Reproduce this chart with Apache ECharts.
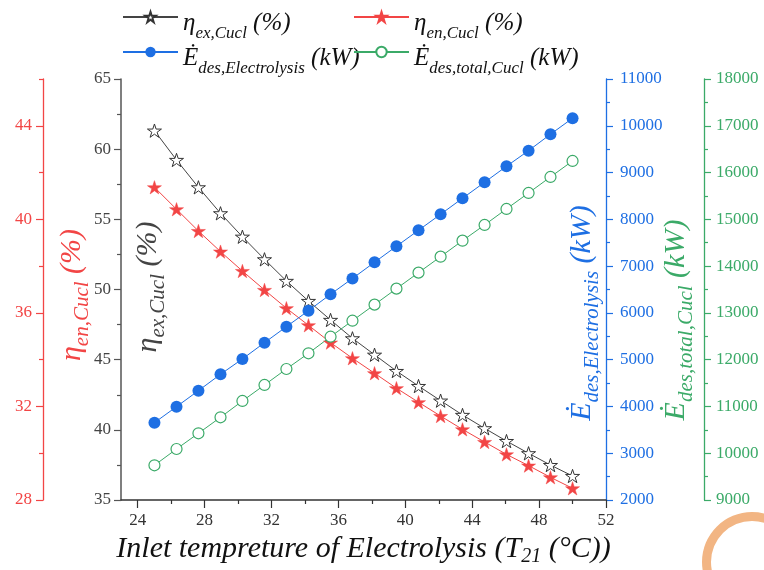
<!DOCTYPE html>
<html>
<head>
<meta charset="utf-8">
<script src="https://cdn.jsdelivr.net/npm/echarts@6/dist/echarts.min.js"></script>
<style>html,body{margin:0;padding:0;background:#fff}#c{width:764px;height:570px}</style>
</head>
<body>
<div id="c"></div>
<script>
// ---- data ----
const tempC = [25, 26.32, 27.63, 28.95, 30.26, 31.58, 32.89, 34.21, 35.53, 36.84, 38.16, 39.47, 40.79, 42.11, 43.42, 44.74, 46.05, 47.37, 48.68, 50];
const etaEx = [61.32, 59.23, 57.28, 55.43, 53.76, 52.15, 50.61, 49.18, 47.83, 46.52, 45.35, 44.19, 43.12, 42.08, 41.06, 40.11, 39.20, 38.33, 37.49, 36.71];
const etaEn = [41.37, 40.43, 39.50, 38.62, 37.79, 36.98, 36.20, 35.47, 34.73, 34.06, 33.42, 32.78, 32.18, 31.59, 31.02, 30.48, 29.95, 29.47, 28.97, 28.50];
const exdElec = [3653, 3995, 4337, 4687, 5015, 5363, 5705, 6047, 6398, 6736, 7082, 7424, 7766, 8108, 8450, 8792, 9134, 9468, 9819, 10161];
const exdTotal = [9742, 10090, 10426, 10768, 11117, 11459, 11801, 12136, 12491, 12833, 13176, 13518, 13860, 14202, 14544, 14880, 15222, 15564, 15906, 16248];

const xMajorTicks = [24, 28, 32, 36, 40, 44, 48, 52];
const xMinorTicks = [26, 30, 34, 38, 42, 46, 50];
const etaExTicks = [35, 40, 45, 50, 55, 60, 65];
const etaEnTicks = [28, 32, 36, 40, 44];
const etaEnMinorTicks = [30, 34, 38, 42, 46];
const etaEnRange = [28, 46];
const elecTicks = [2000, 3000, 4000, 5000, 6000, 7000, 8000, 9000, 10000, 11000];
const totalTicks = [9000, 10000, 11000, 12000, 13000, 14000, 15000, 16000, 17000, 18000];
const xRange = [23, 52];

// ---- styles ----
const FONT = 'Liberation Serif';
const C_RED = '#F24545', C_BLUE = '#1E6FE3', C_GREEN = '#3BAA68';
const STAR = 'path://M100,0L122.45,69.1L195.1,69.1L136.3,111.8L158.8,180.9L100,138.2L41.2,180.9L63.7,111.8L4.9,69.1L77.55,69.1Z';

const legendNames = {
  ex: '{m|η}{s|ex,Cucl}{m| (%)}',
  en: '{m|η}{s|en,Cucl}{m| (%)}',
  el: '{m|Ė}{s|des,Electrolysis}{m| (kW)}',
  tot: '{m|Ė}{s|des,total,Cucl}{m| (kW)}'
};
const legRich = {
  m: {fontSize: 25, fontStyle: 'italic', fontFamily: FONT, color: '#111', verticalAlign: 'top', lineHeight: 28, padding: [8, 0, 0, 0]},
  s: {fontSize: 17, fontStyle: 'italic', fontFamily: FONT, color: '#111', verticalAlign: 'top', lineHeight: 17, padding: [22, 0, 0, 0]}
};
function mkLegend(name, left, top) {
  return {
    data: [name], left: left, top: top, padding: 0, itemWidth: 55, itemHeight: 13, itemGap: 0,
    formatter: n => legendNames[n],
    textStyle: {rich: legRich, fontFamily: FONT, fontSize: 25, color: '#111'}
  };
}
const plain = v => String(v);
const lbl = (color, margin) => ({color: color, fontSize: 17, fontFamily: FONT, margin: margin, formatter: plain});

function titleRich(color, big, small, pad) {
  return {
    m: {fontSize: big, fontStyle: 'italic', fontFamily: FONT, fill: color, color: color, verticalAlign: 'top', lineHeight: big},
    s: {fontSize: small, fontStyle: 'italic', fontFamily: FONT, fill: color, color: color, verticalAlign: 'top', lineHeight: small, padding: [pad, 0, 0, 0]}
  };
}
function yTitle(text, color, x, y) {
  return {
    type: 'text', x: x, y: y, rotation: Math.PI / 2, z: 100,
    style: {text: text, rich: titleRich(color, 30, 21, 15), fill: color, align: 'center', verticalAlign: 'middle'}
  };
}

const option = {
  backgroundColor: '#fff',
  animation: false,
  grid: {left: 121, right: 158, top: 79, bottom: 70, containLabel: false, outerBoundsMode: 'none'},
  legend: [mkLegend('ex', 122, 3), mkLegend('en', 353, 3), mkLegend('el', 122, 38), mkLegend('tot', 353, 38)],
  xAxis: [
    {
      type: 'value', min: xRange[0], max: xRange[1], position: 'bottom',
      axisLine: {show: true, lineStyle: {color: '#333', width: 1.5}},
      axisTick: {show: true, customValues: xMajorTicks, length: 8, lineStyle: {color: '#333', width: 1.2}},
      axisLabel: Object.assign({customValues: xMajorTicks}, lbl('#333', 12)),
      splitLine: {show: false},
      name: '{m|Inlet tempreture of Electrolysis (T}{s|21}{m| (°C))}',
      nameLocation: 'middle', nameGap: 33,
      nameTextStyle: {rich: titleRich('#111', 30, 20, 13), color: '#111'}
    },
    {
      type: 'value', min: xRange[0], max: xRange[1], position: 'bottom',
      axisLine: {show: false},
      axisTick: {show: true, customValues: xMinorTicks, length: 4, lineStyle: {color: '#333', width: 1.2}},
      axisLabel: {show: false}, splitLine: {show: false}
    }
  ],
  yAxis: [
    {
      type: 'value', position: 'left', min: etaExTicks[0], max: etaExTicks[etaExTicks.length - 1], interval: 5,
      axisLine: {show: true, lineStyle: {color: '#555', width: 1.5}},
      axisTick: {show: true, length: 7, lineStyle: {color: '#555', width: 1.2}},
      minorTick: {show: true, splitNumber: 2, length: 4, lineStyle: {color: '#555', width: 1.2}},
      axisLabel: lbl('#444', 10), splitLine: {show: false}
    },
    {
      type: 'value', position: 'left', offset: 78, min: etaEnRange[0], max: etaEnRange[1], interval: 4,
      axisLine: {show: true, lineStyle: {color: C_RED, width: 1.3}},
      axisTick: {show: true, customValues: etaEnTicks, length: 7, lineStyle: {color: C_RED, width: 1.2}},
      axisLabel: Object.assign({customValues: etaEnTicks}, lbl(C_RED, 11)), splitLine: {show: false}
    },
    {
      type: 'value', position: 'right', offset: 0, min: elecTicks[0], max: elecTicks[elecTicks.length - 1], interval: 1000,
      axisLine: {show: true, lineStyle: {color: C_BLUE, width: 1.3}},
      axisTick: {show: true, length: 7, lineStyle: {color: C_BLUE, width: 1.2}},
      minorTick: {show: true, splitNumber: 2, length: 4, lineStyle: {color: C_BLUE, width: 1.2}},
      axisLabel: lbl(C_BLUE, 14), splitLine: {show: false}
    },
    {
      type: 'value', position: 'right', offset: 98, min: totalTicks[0], max: totalTicks[totalTicks.length - 1], interval: 1000,
      axisLine: {show: true, lineStyle: {color: C_GREEN, width: 1.3}},
      axisTick: {show: true, length: 7, lineStyle: {color: C_GREEN, width: 1.2}},
      minorTick: {show: true, splitNumber: 2, length: 4, lineStyle: {color: C_GREEN, width: 1.2}},
      axisLabel: lbl(C_GREEN, 12), splitLine: {show: false}
    },
    {
      type: 'value', position: 'left', offset: 78, min: etaEnRange[0], max: etaEnRange[1],
      axisLine: {show: false},
      axisTick: {show: true, customValues: etaEnMinorTicks, length: 4, lineStyle: {color: C_RED, width: 1.2}},
      axisLabel: {show: false}, splitLine: {show: false}
    }
  ],
  series: [
    {
      name: 'ex', type: 'line', xAxisIndex: 0, yAxisIndex: 0,
      data: tempC.map((x, i) => [x, etaEx[i]]),
      symbol: STAR, symbolSize: 14, symbolKeepAspect: true,
      lineStyle: {color: '#444', width: 1}, itemStyle: {color: '#fff', borderColor: '#333', borderWidth: 1}
    },
    {
      name: 'en', type: 'line', xAxisIndex: 0, yAxisIndex: 1,
      data: tempC.map((x, i) => [x, etaEn[i]]),
      symbol: STAR, symbolSize: 14, symbolKeepAspect: true,
      lineStyle: {color: C_RED, width: 1}, itemStyle: {color: C_RED, borderColor: C_RED, borderWidth: 0.5}
    },
    {
      name: 'el', type: 'line', xAxisIndex: 0, yAxisIndex: 2,
      data: tempC.map((x, i) => [x, exdElec[i]]),
      symbol: 'circle', symbolSize: 12,
      lineStyle: {color: C_BLUE, width: 1}, itemStyle: {color: C_BLUE}
    },
    {
      name: 'tot', type: 'line', xAxisIndex: 0, yAxisIndex: 3,
      data: tempC.map((x, i) => [x, exdTotal[i]]),
      symbol: 'circle', symbolSize: 11,
      lineStyle: {color: C_GREEN, width: 1}, itemStyle: {color: '#fff', borderColor: C_GREEN, borderWidth: 1.2}
    }
  ],
  graphic: [
    yTitle('{m|η}{s|en,Cucl}{m| (%)}', C_RED, 72, 295),
    yTitle('{m|η}{s|ex,Cucl}{m| (%)}', '#444', 148, 287),
    yTitle('{m|Ė}{s|des,Electrolysis}{m| (kW)}', C_BLUE, 582, 313),
    yTitle('{m|Ė}{s|des,total,Cucl}{m| (kW)}', C_GREEN, 676, 320),
    {type: 'ring', shape: {cx: 752, cy: 562, r: 50, r0: 41}, style: {fill: '#F2B583'}, z: 0}
  ]
};
const chart = echarts.init(document.getElementById('c'), null, {renderer: 'canvas'});
chart.setOption(option);
</script>
</body>
</html>
